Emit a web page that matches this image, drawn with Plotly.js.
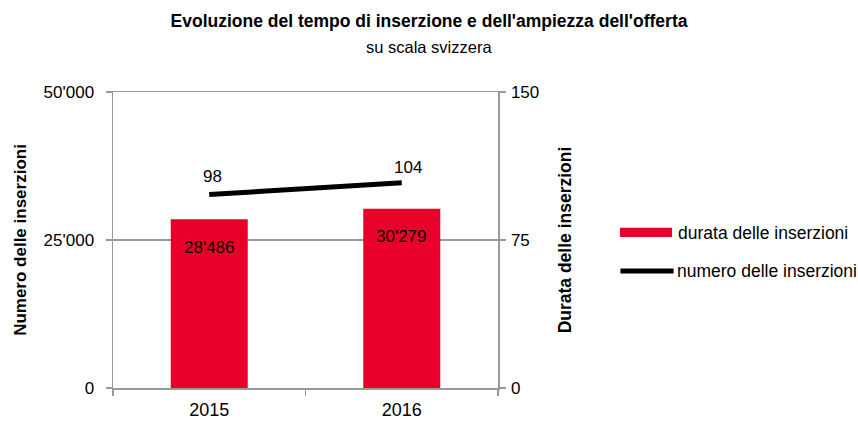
<!DOCTYPE html>
<html>
<head>
<meta charset="utf-8">
<script src="https://cdn.plot.ly/plotly-3.0.1.min.js"></script>
<style>
html,body{margin:0;padding:0;background:#fff;}
#chart{width:858px;height:423px;}
</style>
</head>
<body>
<div id="chart"></div>
<script>
var years = ['2015', '2016'];
var barValues = [28486, 30279];
var lineValues = [98, 104];
var barName = 'durata delle inserzioni';
var lineName = 'numero delle inserzioni';
var leftTicks = [0, 25000, 50000];
var rightTicks = [0, 75, 150];

var FONT = 'Liberation Sans, Arial, sans-serif';
var RED = '#e8002b';

function fmt(v){ return String(v).replace(/\B(?=(\d{3})+(?!\d))/g, "'"); }

var traces = [
  {
    type: 'bar', x: years, y: barValues, name: barName,
    marker: {color: RED}, yaxis: 'y', hoverinfo: 'skip'
  },
  {
    type: 'scatter', mode: 'lines', x: years, y: lineValues, name: lineName,
    line: {color: '#000', width: 5}, yaxis: 'y2', hoverinfo: 'skip'
  }
];

var annotations = [];
years.forEach(function(c, i){
  annotations.push({x: i, y: barValues[i], xref: 'x', yref: 'y', text: fmt(barValues[i]),
    showarrow: false, yshift: -28, font: {family: FONT, size: 17, color: '#000'}});
  annotations.push({x: i, y: lineValues[i], xref: 'x', yref: 'y2', text: fmt(lineValues[i]),
    showarrow: false, yshift: i === 0 ? 18 : 15, xshift: i === 0 ? 3 : 6, font: {family: FONT, size: 17, color: '#000'}});
});
// legend (manual)
annotations.push({xref: 'paper', yref: 'paper', x: 1.462, y: 0.524, xanchor: 'left', yanchor: 'middle',
  text: barName, showarrow: false, font: {family: FONT, size: 17.5, color: '#000'}});
annotations.push({xref: 'paper', yref: 'paper', x: 1.46, y: 0.395, xanchor: 'left', yanchor: 'middle',
  text: lineName, showarrow: false, font: {family: FONT, size: 17.5, color: '#000'}});
// subtitle
annotations.push({xref: 'paper', yref: 'paper', x: 0.82, y: 1.0, yshift: 45, xanchor: 'center', yanchor: 'middle',
  text: 'su scala svizzera', showarrow: false, font: {family: FONT, size: 16.5, color: '#000'}});

var shapes = [
  {type: 'rect', xref: 'paper', yref: 'paper', x0: 1.317, x1: 1.452, y0: 0.510, y1: 0.541,
    fillcolor: RED, line: {width: 0}},
  {type: 'line', xref: 'paper', yref: 'paper', x0: 1.318, x1: 1.456, y0: 0.395, y1: 0.395,
    line: {color: '#000', width: 5}}
];

var layout = {
  width: 858, height: 423,
  margin: {l: 113, r: 360, t: 92, b: 35},
  paper_bgcolor: '#fff', plot_bgcolor: '#fff',
  separators: ".'",
  showlegend: false,
  bargap: 0.6,
  font: {family: FONT, size: 16, color: '#000'},
  title: {text: "<b>Evoluzione del tempo di inserzione e dell'ampiezza dell'offerta</b>",
    x: 0.5, xref: 'container', xanchor: 'center', y: 0.951, yref: 'container', yanchor: 'middle',
    font: {family: FONT, size: 17.5, color: '#000'}},
  xaxis: {
    type: 'category', range: [-0.5, 1.5], autorange: false,
    showline: true, mirror: true, linecolor: '#999', linewidth: 1.5,
    ticks: 'outside', tickson: 'boundaries', ticklen: 6, tickcolor: '#999', tickwidth: 1.5,
    ticklabelstandoff: 5,
    tickangle: 0, showgrid: false, tickfont: {family: FONT, size: 18}, fixedrange: true
  },
  yaxis: {
    range: [0, 50000], tickvals: leftTicks, ticktext: leftTicks.map(fmt),
    showline: true, linecolor: '#999', linewidth: 1.5,
    ticks: 'outside', ticklen: 6, tickcolor: '#999', tickwidth: 1.5,
    ticklabelstandoff: 8,
    showgrid: true, gridcolor: '#999', gridwidth: 1.5, zeroline: false,
    tickfont: {family: FONT, size: 17},
    title: {text: '<b>Numero delle inserzioni</b>', standoff: 12, font: {family: FONT, size: 17}}
  },
  yaxis2: {
    overlaying: 'y', side: 'right', range: [0, 150], tickvals: rightTicks,
    showline: true, linecolor: '#999', linewidth: 1.5,
    ticks: 'outside', ticklen: 6, tickcolor: '#999', tickwidth: 1.5,
    ticklabelstandoff: 2,
    showgrid: false, zeroline: false,
    tickfont: {family: FONT, size: 17},
    title: {text: '<b>Durata delle inserzioni</b>', standoff: 20, font: {family: FONT, size: 17.5}}
  },
  annotations: annotations,
  shapes: shapes
};

Plotly.newPlot('chart', traces, layout, {staticPlot: true, displayModeBar: false});
</script>
</body>
</html>
